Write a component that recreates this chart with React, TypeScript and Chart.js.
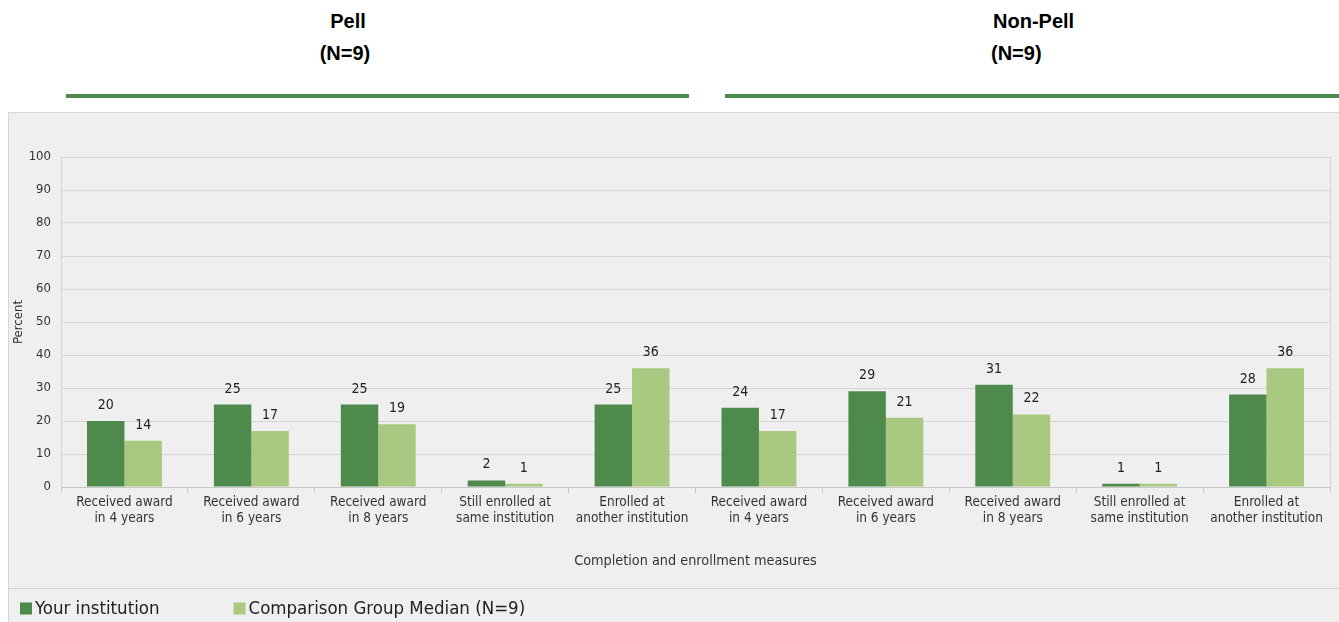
import React, { useEffect, useRef } from 'react';
import { Chart, registerables } from 'chart.js';

Chart.register(...registerables);

const categories: string[][] = [
  ['Received award', 'in 4 years'],
  ['Received award', 'in 6 years'],
  ['Received award', 'in 8 years'],
  ['Still enrolled at', 'same institution'],
  ['Enrolled at', 'another institution'],
  ['Received award', 'in 4 years'],
  ['Received award', 'in 6 years'],
  ['Received award', 'in 8 years'],
  ['Still enrolled at', 'same institution'],
  ['Enrolled at', 'another institution'],
];
const yourInstitution = [20, 25, 25, 2, 25, 24, 29, 31, 1, 28];
const comparisonMedian = [14, 17, 19, 1, 36, 17, 21, 22, 1, 36];
const seriesNames = ['Your institution', 'Comparison Group Median (N=9)'];
const groupTitles = ['Pell', 'Non-Pell'];
const groupCounts = ['(N=9)', '(N=9)'];
const xAxisTitle = 'Completion and enrollment measures';
const yAxisTitle = 'Percent';

const DARK = '#4e8a4b';
const LIGHT = '#a8c97f';
const NARROW = "'Liberation Sans Narrow', 'Arial Narrow', 'DejaVu Sans Condensed', sans-serif";
const SANS = "'Liberation Sans', Arial, sans-serif";

const panelPlugin = {
  id: 'panel',
  beforeDraw(chart: any) {
    const { ctx, width, height } = chart;
    ctx.save();
    ctx.fillStyle = '#efefef';
    ctx.fillRect(0, 0, width, height);
    ctx.strokeStyle = '#d6d6d6';
    ctx.lineWidth = 1;
    ctx.beginPath();
    ctx.moveTo(0, 0.5);
    ctx.lineTo(width, 0.5);
    ctx.moveTo(0.5, 0);
    ctx.lineTo(0.5, height);
    ctx.stroke();
    ctx.restore();
  },
  afterDraw(chart: any) {
    const { ctx, width, chartArea } = chart;
    ctx.save();
    // right border of plot
    ctx.strokeStyle = '#d4d4d4';
    ctx.lineWidth = 1;
    ctx.beginPath();
    ctx.moveTo(Math.round(chartArea.right) + 0.5, chartArea.top);
    ctx.lineTo(Math.round(chartArea.right) + 0.5, chartArea.bottom);
    ctx.stroke();
    // separator above legend
    const sepY = chartArea.bottom + 101.5;
    ctx.strokeStyle = '#cfcfcf';
    ctx.beginPath();
    ctx.moveTo(0, sepY);
    ctx.lineTo(width, sepY);
    ctx.stroke();
    // legend
    const ly = sepY + 20;
    let x = 12;
    ctx.font = `18.5px ${NARROW}`;
    ctx.textBaseline = 'middle';
    ctx.textAlign = 'left';
    chart.data.datasets.forEach((ds: any) => {
      ctx.fillStyle = ds.backgroundColor;
      ctx.fillRect(x, ly - 6, 12, 12);
      ctx.fillStyle = '#222';
      ctx.fillText(ds.label, x + 15, ly + 1);
      x += 15 + ctx.measureText(ds.label).width + 74;
    });
    ctx.restore();
  },
};

const valueLabelPlugin = {
  id: 'valueLabels',
  afterDatasetsDraw(chart: any) {
    const { ctx } = chart;
    ctx.save();
    ctx.font = `14px ${NARROW}`;
    ctx.fillStyle = '#222';
    ctx.textAlign = 'center';
    ctx.textBaseline = 'alphabetic';
    chart.data.datasets.forEach((ds: any, i: number) => {
      const meta = chart.getDatasetMeta(i);
      meta.data.forEach((el: any, j: number) => {
        ctx.fillText(String(ds.data[j]), el.x, el.y - 12);
      });
    });
    ctx.restore();
  },
};

export default function App() {
  const ref = useRef<HTMLCanvasElement | null>(null);

  useEffect(() => {
    if (!ref.current) return;
    const chart = new Chart(ref.current, {
      type: 'bar',
      data: {
        labels: categories,
        datasets: [
          { label: seriesNames[0], data: yourInstitution, backgroundColor: DARK },
          { label: seriesNames[1], data: comparisonMedian, backgroundColor: LIGHT },
        ],
      },
      options: {
        animation: false,
        responsive: false,
        maintainAspectRatio: false,
        layout: { padding: { top: 45, right: 9, left: 0, bottom: 52 } },
        datasets: { bar: { categoryPercentage: 0.59, barPercentage: 1 } } as any,
        plugins: { legend: { display: false }, tooltip: { enabled: false } },
        scales: {
          x: {
            grid: { offset: true, drawOnChartArea: false, tickLength: 6, color: '#c8c8c8' },
            border: { color: '#c8c8c8' },
            ticks: { font: { family: NARROW, size: 13.5 }, color: '#333', padding: 1, maxRotation: 0, autoSkip: false },
            title: { display: true, text: xAxisTitle, font: { family: NARROW, size: 14.3 }, color: '#333', padding: { top: 4, bottom: 0 } },
            afterFit: (s: any) => { s.height = 83; },
          },
          y: {
            min: 0,
            max: 100,
            ticks: { stepSize: 10, padding: 10, font: { family: NARROW, size: 13 }, color: '#333' },
            grid: { color: '#d4d4d4', drawTicks: false },
            border: { color: '#d4d4d4' },
            title: { display: true, text: yAxisTitle, font: { family: NARROW, size: 13 }, color: '#333', padding: { top: 3, bottom: 0 } },
            afterFit: (s: any) => { s.width = 53; },
          },
        },
      } as any,
      plugins: [panelPlugin, valueLabelPlugin],
    });
    return () => chart.destroy();
  }, []);

  const headStyle: React.CSSProperties = {
    position: 'absolute',
    fontFamily: SANS,
    fontWeight: 'bold',
    fontSize: 20,
    color: '#000',
    whiteSpace: 'nowrap',
    lineHeight: '24px',
  };

  return (
    <div style={{ position: 'absolute', left: 0, top: 0, width: 1339, height: 622, overflow: 'hidden', background: '#fff' }}>
      <div style={{ ...headStyle, left: 348, top: 9, transform: 'translateX(-50%)' }}>{groupTitles[0]}</div>
      <div style={{ ...headStyle, left: 345, top: 41, transform: 'translateX(-50%)' }}>{groupCounts[0]}</div>
      <div style={{ ...headStyle, left: 993, top: 9 }}>{groupTitles[1]}</div>
      <div style={{ ...headStyle, left: 991, top: 41 }}>{groupCounts[1]}</div>
      <div style={{ position: 'absolute', left: 66, top: 94, width: 623, height: 4, background: DARK }} />
      <div style={{ position: 'absolute', left: 725, top: 94, width: 614, height: 4, background: DARK }} />
      <canvas ref={ref} width={1331} height={510} style={{ position: 'absolute', left: 8, top: 112, width: 1331, height: 510 }} />
    </div>
  );
}
